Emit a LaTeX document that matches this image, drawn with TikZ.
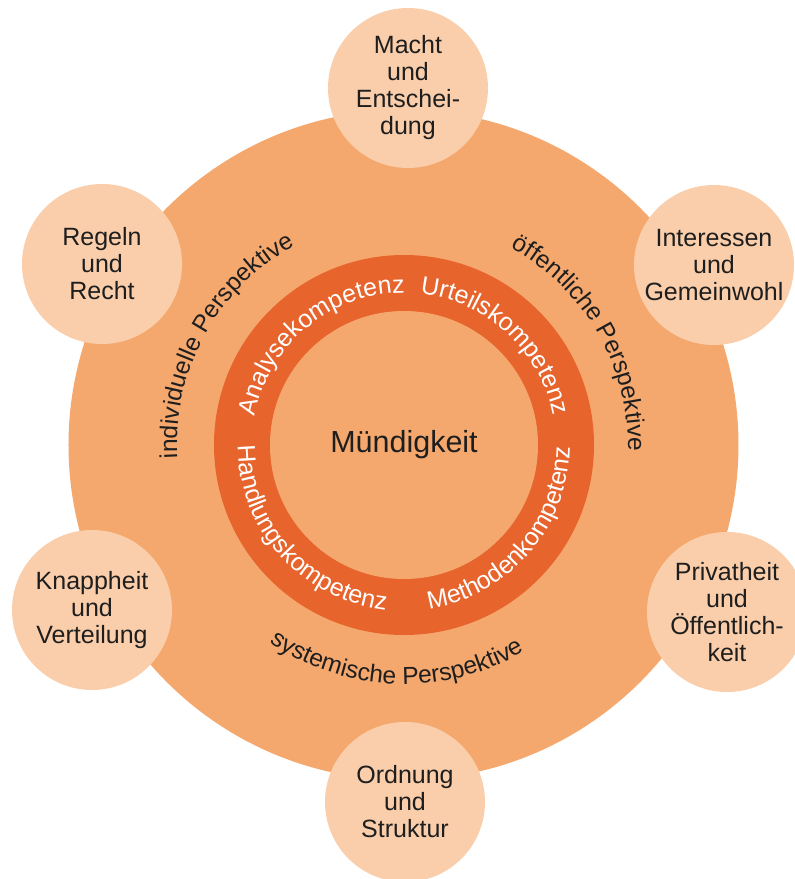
\documentclass[tikz,border=0pt]{standalone}
\usepackage{fontspec}
\setmainfont{Liberation Sans}
\usepackage{xcolor}
\usetikzlibrary{decorations.text}

\definecolor{aussen}{RGB}{244,168,110}
\definecolor{ringrot}{RGB}{232,100,45}
\definecolor{feld}{RGB}{250,206,170}
\definecolor{schrift}{RGB}{30,30,30}
\newcommand\ringfont{\fontsize{25}{25}\selectfont\color{white}}
\newcommand\perspfont{\fontsize{24.5}{24.5}\selectfont\color{schrift}}

\tikzset{
  feldkreis/.style={circle, fill=feld, minimum size=160pt, inner sep=0pt,
    align=center, text=schrift, font=\fontsize{25}{27}\selectfont},
  ringtext/.style={decorate, decoration={text along path, text align=center,
    text={|\ringfont|#1}}},
  persptext/.style={decorate, decoration={text along path, text align=center,
    text={|\perspfont|#1}}}
}

\begin{document}
\begin{tikzpicture}[x=1pt,y=1pt]
\useasboundingbox (-404,-434) rectangle (391,445);

% grosser Kreis
\fill[aussen] (-0.5,0) circle[radius=335];

% Themenfelder
\foreach \n/\x/\y/\t in {
    macht/4/357/{Macht\\und\\Entschei-\\dung},
    regeln/-302/181/{Regeln\\und\\Recht},
    interessen/310/180/{Interessen\\und\\Gemeinwohl},
    knappheit/-312/-165/{Knappheit\\und\\Verteilung},
    privat/323/-167/{Privatheit\\und\\Öffentlich-\\keit},
    ordnung/1/-357/{Ordnung\\und\\Struktur}} {
    \node[feldkreis] (\n) at (\x,\y) {\t};
}

% Kompetenzring
\fill[ringrot] (0,0) circle[radius=190];
\fill[aussen] (0,0) circle[radius=134];
\node[text=schrift, font=\fontsize{30.5}{30.5}\selectfont] (mitte) at (0,0) {Mündigkeit};

\path[ringtext=Analysekompetenz] (175:152) arc[start angle=175, end angle=84, radius=152];
\path[ringtext=Urteilskompetenz] (90:152) arc[start angle=90, end angle=5, radius=152];
\path[ringtext=Handlungskompetenz] (170:166) arc[start angle=170, end angle=274, radius=166];
\path[ringtext=Methodenkompetenz] (269:166) arc[start angle=269, end angle=369, radius=166];

% Perspektiven
\path[persptext=individuelle Perspektive] (191:227) arc[start angle=191, end angle=111, radius=227];
\path[persptext=öffentliche Perspektive] (70:224) arc[start angle=70, end angle=-10, radius=224];
\path[persptext=systemische Perspektive] (226:239) arc[start angle=226, end angle=310, radius=239];
\end{tikzpicture}
\end{document}
